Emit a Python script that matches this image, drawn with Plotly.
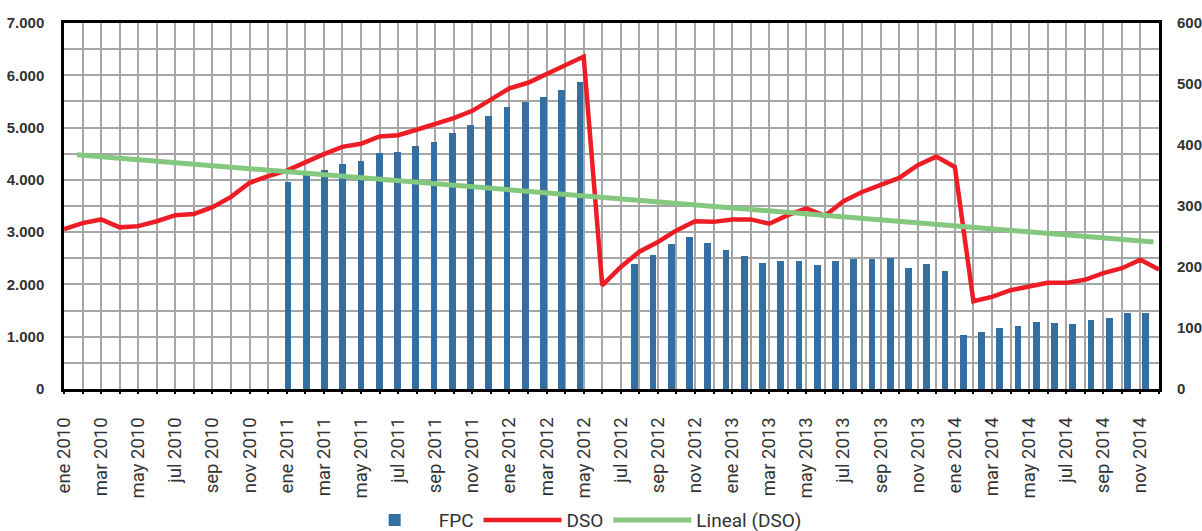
import plotly.graph_objects as go

MESES = ["ene", "feb", "mar", "abr", "may", "jun", "jul", "ago", "sep", "oct", "nov", "dic"]
YEARS = [2010, 2011, 2012, 2013, 2014]
CATEGORIES = [f"{m} {y}" for y in YEARS for m in MESES]

# FPC (left axis), None = no bar
FPC = [None] * 12 + [
    3960, 4090, 4190, 4300, 4355, 4515, 4535, 4650, 4725, 4900, 5050, 5225,
    5395, 5490, 5590, 5720, 5875, None, None, 2390, 2560, 2770, 2905, 2790,
    2660, 2540, 2405, 2445, 2445, 2365, 2445, 2485, 2485, 2505, 2310, 2390,
    2255, 1030, 1085, 1160, 1200, 1275, 1255, 1240, 1315, 1350, 1450, 1450,
]

# DSO (right axis)
DSO = [
    262, 272, 278, 265, 267, 275, 285, 287, 298, 315, 338, 349,
    358, 372, 385, 397, 402, 414, 416, 425, 434, 444, 456, 474,
    493, 502, 517, 531, 545, 170, 200, 225, 241, 260, 275, 274,
    278, 278, 271, 285, 296, 284, 308, 323, 334, 346, 367, 381,
    364, 144, 151, 162, 168, 174, 174, 179, 190, 198, 212, 196,
]

# Lineal (DSO) trend line, as drawn: start and end values
TREND_X = [0.7, 58.7]
TREND_Y = [384, 241]

idx = list(range(len(CATEGORIES)))
tick_text = [c if i % 2 == 0 else "" for i, c in enumerate(CATEGORIES)]

BLUE = "#336FA0"
RED = "#EE1C25"
GREEN = "#84C77E"
GRID = "#a6a6a6"
TXT = "#333333"

fig = go.Figure()
fig.add_trace(go.Bar(
    x=idx, y=FPC, name="FPC", marker=dict(color=BLUE, line=dict(width=0)),
    width=0.38, xaxis="x", yaxis="y",
))
fig.add_trace(go.Scatter(
    x=idx, y=DSO, name="DSO", mode="lines",
    line=dict(color=RED, width=4.5), xaxis="x2", yaxis="y2",
))
fig.add_trace(go.Scatter(
    x=TREND_X, y=TREND_Y, name="Lineal (DSO)", mode="lines",
    line=dict(color=GREEN, width=5), xaxis="x2", yaxis="y2",
))

fig.update_layout(
    width=1202, height=531,
    margin=dict(l=64, r=43, t=23, b=142, autoexpand=False),
    paper_bgcolor="white", plot_bgcolor="white",
    separators=",.",
    showlegend=True,
    legend=dict(
        orientation="h", x=0.47, xanchor="center", y=-0.358, yanchor="middle",
        font=dict(family="Roboto", size=19, color=TXT),
        itemwidth=78, tracegroupgap=0, bgcolor="rgba(0,0,0,0)",
    ),
    bargap=0,
    xaxis=dict(
        range=[-0.274, 59.726], showticklabels=False, showgrid=False,
        ticks="", showline=True, linecolor="black", linewidth=2.5, mirror=True,
        zeroline=False, automargin=False,
    ),
    xaxis2=dict(
        range=[0, 59], overlaying="x", side="bottom",
        tickmode="array", tickvals=idx, ticktext=tick_text,
        tickangle=-90, showgrid=True, gridcolor=GRID, gridwidth=1.5,
        ticks="outside", ticklen=4, tickcolor="black", tickwidth=2,
        showline=False, ticklabelstandoff=16, automargin=False,
        tickfont=dict(family="Roboto", size=18.5, color=TXT),
        zeroline=False, layer="below traces",
    ),
    yaxis=dict(
        range=[0, 7000], dtick=1000, tickformat=",.0f",
        showgrid=True, gridcolor=GRID, gridwidth=1.5,
        minor=dict(dtick=500, showgrid=True, gridcolor=GRID, gridwidth=1.5),
        showline=True, linecolor="black", linewidth=2.5, mirror=True,
        tickfont=dict(family="Liberation Sans", size=15, color=TXT, weight="bold"),
        ticklabelstandoff=14, zeroline=False, automargin=False,
    ),
    yaxis2=dict(
        range=[0, 600], dtick=100, overlaying="y", side="right",
        showgrid=False, showline=False, zeroline=False, automargin=False,
        tickfont=dict(family="Liberation Sans", size=15, color=TXT, weight="bold"),
        ticklabelstandoff=17,
    ),
)

fig.write_html(
    "out.html",
    config={"displayModeBar": False},
    post_script="document.body.style.margin='0';document.body.style.padding='0';",
)
